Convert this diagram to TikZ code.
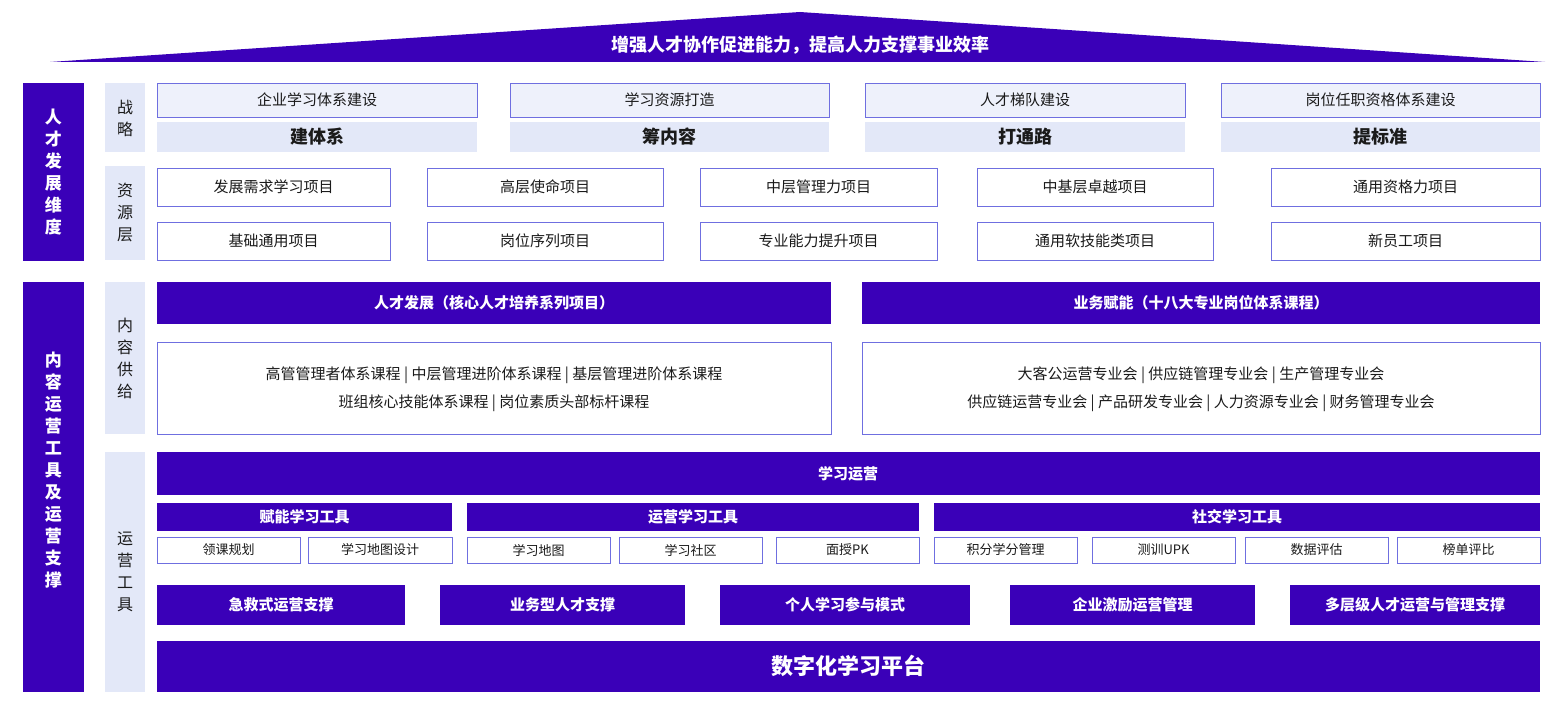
\documentclass[tikz,border=0pt]{standalone}
\usepackage{fontspec}
\setmainfont{Noto Sans CJK SC}
\definecolor{dp}{HTML}{3A00B8}
\definecolor{lb}{HTML}{E3E8F8}
\definecolor{bd}{HTML}{6F6FE0}
\definecolor{tx}{HTML}{1A1A1A}
\begin{document}
\begin{tikzpicture}[x=1pt,y=-1pt,
  dark/.style={fill=dp,draw=none},
  lab/.style={fill=lb,draw=none},
  wbox/.style={fill=white,draw=bd,line width=0.9pt},
  sbox/.style={fill=lb!60,draw=bd,line width=0.9pt},
  wt/.style={text=white,font=\fontsize{15}{18}\selectfont\bfseries},
  bt/.style={text=tx,font=\fontsize{15}{18}\selectfont},
  vt/.style={align=center,font=\fontsize{17}{22}\selectfont\bfseries,text=white},
  vl/.style={align=center,font=\fontsize{16}{22}\selectfont,text=tx}]
\useasboundingbox (0,0) rectangle (1559,709);
\fill[white] (0,0) rectangle (1559,709);
% roof
\fill[dp] (50,62) -- (800,12) -- (1545,62) -- cycle;
\node[wt,font=\fontsize{18}{22}\selectfont\bfseries] (roof) at (800,45) {增强人才协作促进能力，提高人力支撑事业效率};
% left bars
\fill[dark] (23,83) rectangle (84,261);
\node[vt] (l1) at (53.5,172) {人\\才\\发\\展\\维\\度};
\fill[dark] (23,282) rectangle (84,692);
\node[vt] (l2) at (53.5,470) {内\\容\\运\\营\\工\\具\\及\\运\\营\\支\\撑};
% label column
\fill[lab] (105,83) rectangle (145,152);
\node[vl] (c1) at (125,118) {战\\略};
\fill[lab] (105,166) rectangle (145,260);
\node[vl] (c2) at (125,213) {资\\源\\层};
\fill[lab] (105,282) rectangle (145,434);
\node[vl] (c3) at (125,358) {内\\容\\供\\给};
\fill[lab] (105,452) rectangle (145,692);
\node[vl] (c4) at (125,572) {运\\营\\工\\具};
% strategy
\foreach \a/\b/\t/\u [count=\i] in {157/477/企业学习体系建设/建体系,510/829/学习资源打造/筹内容,865/1185/人才梯队建设/打通路,1221/1540/岗位任职资格体系建设/提标准}{
  \draw[sbox] (\a,83) rectangle (\b,117);
  \node[bt] (s\i) at ({(\a+\b)/2},100) {\t};
  \fill[lab] (\a,122) rectangle (\b,152);
  \node[bt,font=\fontsize{18}{22}\selectfont\bfseries] (ss\i) at ({(\a+\b)/2},137) {\u};
}
% resources
\foreach \a/\b/\t/\u [count=\i] in {157/390/发展需求学习项目/基础通用项目,427/663/高层使命项目/岗位序列项目,700/937/中层管理力项目/专业能力提升项目,977/1213/中基层卓越项目/通用软技能类项目,1271/1540/通用资格力项目/新员工项目}{
  \draw[wbox] (\a,168) rectangle (\b,206);
  \node[bt] (r\i) at ({(\a+\b)/2},187) {\t};
  \draw[wbox] (\a,222) rectangle (\b,260);
  \node[bt] (rr\i) at ({(\a+\b)/2},241) {\u};
}
% content
\fill[dark] (157,282) rectangle (831,324);
\node[wt] (h1) at (494,303) {人才发展（核心人才培养系列项目）};
\fill[dark] (862,282) rectangle (1540,324);
\node[wt] (h2) at (1201,303) {业务赋能（十八大专业岗位体系课程）};
\draw[wbox] (157,342) rectangle (831,434);
\node[bt,align=center,font=\fontsize{15}{28}\selectfont] (b1) at (494,389) {高管管理者体系课程 | 中层管理进阶体系课程 | 基层管理进阶体系课程\\班组核心技能体系课程 | 岗位素质头部标杆课程};
\draw[wbox] (862,342) rectangle (1540,434);
\node[bt,align=center,font=\fontsize{15}{28}\selectfont] (b2) at (1201,389) {大客公运营专业会 | 供应链管理专业会 | 生产管理专业会\\供应链运营专业会 | 产品研发专业会 | 人力资源专业会 | 财务管理专业会};
% operations
\fill[dark] (157,452) rectangle (1540,495);
\node[wt] (op) at (848,474) {学习运营};
\foreach \a/\b/\t [count=\i] in {157/452/赋能学习工具,467/919/运营学习工具,934/1540/社交学习工具}{
  \fill[dark] (\a,503) rectangle (\b,531);
  \node[wt] (t\i) at ({(\a+\b)/2},517) {\t};
}
\foreach \a/\b/\t [count=\i] in {157/300/领课规划,308/452/学习地图设计,467/610/学习地图,619/762/学习社区,776/919/面授PK,934/1077/积分学分管理,1092/1235/测训UPK,1245/1388/数据评估,1397/1540/榜单评比}{
  \draw[wbox] (\a,537) rectangle (\b,563);
  \node[bt,font=\fontsize{13}{16}\selectfont] (i\i) at ({(\a+\b)/2},550) {\t};
}
\foreach \a/\b/\t [count=\i] in {157/405/急救式运营支撑,440/685/业务型人才支撑,720/970/个人学习参与模式,1010/1255/企业激励运营管理,1290/1540/多层级人才运营与管理支撑}{
  \fill[dark] (\a,585) rectangle (\b,625);
  \node[wt] (p\i) at ({(\a+\b)/2},605) {\t};
}
\fill[dark] (157,641) rectangle (1540,692);
\node[wt,font=\fontsize{22}{26}\selectfont\bfseries] (pl) at (848,666) {数字化学习平台};
\end{tikzpicture}
\end{document}
